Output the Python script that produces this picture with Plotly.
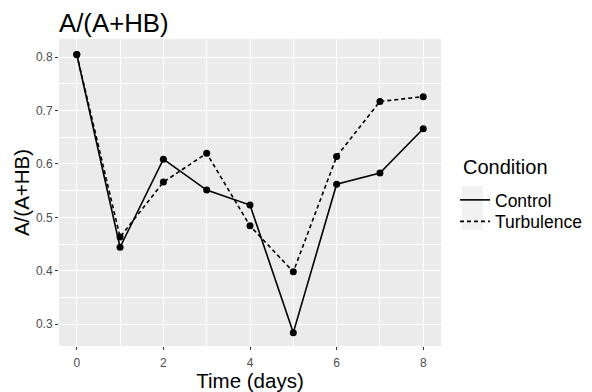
import plotly.graph_objects as go

# Sampling days
days = [0, 1, 2, 3, 4, 5, 6, 7, 8]

# A/(A+HB) ratio per condition
control = [0.805, 0.444, 0.609, 0.551, 0.523, 0.284, 0.562, 0.583, 0.666]
turbulence = [0.805, 0.463, 0.566, 0.620, 0.484, 0.398, 0.614, 0.717, 0.726]

conditions = ["Control", "Turbulence"]
series = [control, turbulence]
dashes = ["solid", "4px,3px"]
legend_ids = ["legend", "legend2"]

x_ticks = [0, 2, 4, 6, 8]
y_ticks = [0.3, 0.4, 0.5, 0.6, 0.7, 0.8]

FONT = "Liberation Sans, Arial, sans-serif"

# panel geometry in pixels (used to place legend pieces in paper coords)
W, H = 592, 392
L, R, T, B = 59, 151, 39, 46
PW, PH = W - L - R, H - T - B


def px_x(px):
    return (px - L) / PW


def px_y(py):
    return (H - B - py) / PH


fig = go.Figure()
for name, vals, dash, lg in zip(conditions, series, dashes, legend_ids):
    fig.add_trace(go.Scatter(
        x=days, y=vals, mode="lines", name=name, legend=lg,
        line=dict(color="black", width=1.6, dash=dash),
    ))
for vals in series:
    fig.add_trace(go.Scatter(
        x=days, y=vals, mode="markers", showlegend=False,
        marker=dict(color="black", size=7),
    ))

axis_common = dict(
    showgrid=True, gridcolor="white", gridwidth=1.1,
    zeroline=False, showline=False,
    ticks="outside", ticklen=3, tickcolor="#333333", tickwidth=1,
    tickfont=dict(family=FONT, size=12, color="#4D4D4D"),
)

fig.update_xaxes(
    range=[-0.41, 8.41], tickvals=x_ticks, ticklabelstandoff=3,
    minor=dict(showgrid=True, gridcolor="white", gridwidth=0.5, tickvals=[1, 3, 5, 7]),
    title=dict(text="Time (days)", font=dict(family=FONT, size=20.5, color="black"), standoff=0),
    **axis_common,
)
fig.update_yaxes(
    range=[0.259, 0.834], tickvals=y_ticks, tickformat=".1f",
    minor=dict(showgrid=True, gridcolor="white", gridwidth=0.5,
               tickvals=[0.25, 0.35, 0.45, 0.55, 0.65, 0.75]),
    title=dict(text="A/(A+HB)", font=dict(family=FONT, size=20.5, color="black"), standoff=0),
    **axis_common,
)

# grey background behind the legend keys
fig.add_shape(type="rect", xref="paper", yref="paper",
              x0=px_x(462), x1=px_x(483), y0=px_y(230), y1=px_y(186),
              fillcolor="#F2F2F2", line=dict(width=0), layer="below")

# legend title
fig.add_annotation(text="Condition", xref="paper", yref="paper",
                   x=px_x(461), y=px_y(167), xanchor="left", yanchor="middle",
                   showarrow=False, font=dict(family=FONT, size=20, color="black"))

legend_style = dict(
    font=dict(family=FONT, size=17.5, color="black"),
    xanchor="left", yanchor="middle", x=px_x(455),
    bgcolor="rgba(0,0,0,0)", itemwidth=30,
)

fig.update_layout(
    width=W, height=H,
    margin=dict(l=L, r=R, t=T, b=B, autoexpand=False),
    paper_bgcolor="white", plot_bgcolor="#EBEBEB",
    title=dict(text="A/(A+HB)", x=L / W, xanchor="left", xref="container",
               y=1 - 23 / H, yanchor="middle",
               font=dict(family=FONT, size=25.8, color="black")),
    legend=dict(y=px_y(200), **legend_style),
    legend2=dict(y=px_y(221.5), **legend_style),
    showlegend=True,
)

fig.write_html("out.html")
